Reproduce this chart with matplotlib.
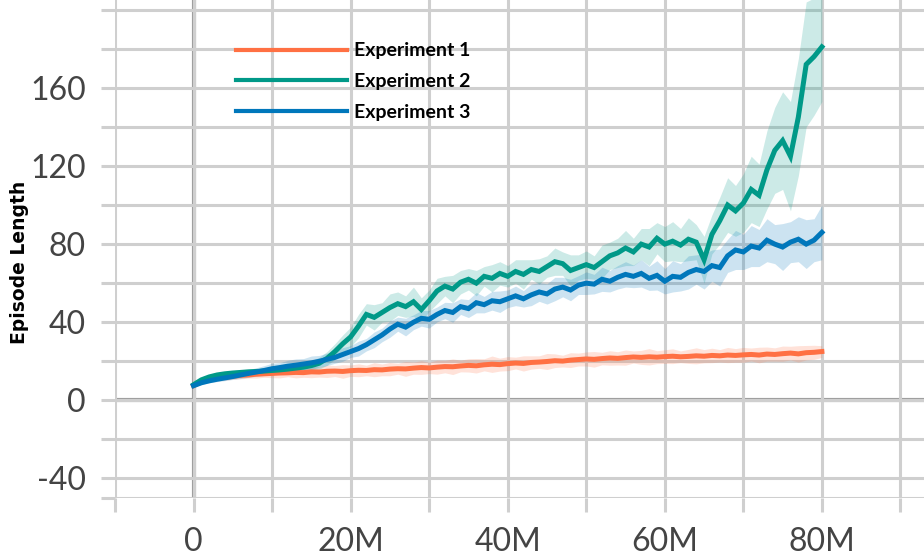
import numpy as np
import matplotlib
matplotlib.use("Agg")
import matplotlib.pyplot as plt

plt.rcParams['axes.unicode_minus'] = False

# training steps (millions), one sample per 1M
steps_m = list(range(0, 81))

exp1 = [7.5, 9.5, 10.5, 11.2, 11.8, 12.3, 12.8, 13.0, 13.4, 13.6,
        13.8, 14.0, 14.1, 14.3, 14.2, 14.6, 14.5, 14.9, 15.0, 14.8,
        15.2, 15.4, 15.3, 15.7, 15.6, 16.0, 16.2, 16.1, 16.5, 16.8,
        16.6, 17.0, 17.3, 17.2, 17.6, 17.9, 17.7, 18.2, 18.5, 18.3,
        18.8, 19.1, 18.9, 19.4, 19.6, 19.9, 20.3, 20.1, 20.6, 20.9,
        21.2, 21.0, 21.4, 21.7, 21.5, 21.9, 22.2, 22.0, 22.3, 22.1,
        22.4, 22.6, 22.3, 22.5, 22.8, 22.6, 23.0, 22.8, 23.2, 23.0,
        23.3, 23.5, 23.2, 23.7, 23.5, 23.9, 24.2, 23.8, 24.4, 24.6,
        25.0]
exp1_spread = [0.5, 0.8, 1.0, 1.2, 1.5, 1.5, 1.8, 1.6, 2.0, 1.8,
               2.2, 2.5, 2.0, 2.8, 2.4, 3.0, 2.6, 3.2, 2.8, 3.5,
               2.9, 3.3, 2.7, 3.6, 3.0, 3.4, 2.8, 3.8, 3.1, 3.5,
               2.9, 3.6, 3.2, 4.0, 3.0, 3.4, 3.7, 3.1, 4.2, 3.3,
               3.6, 3.0, 3.9, 3.4, 3.2, 4.1, 3.5, 3.0, 3.8, 3.3,
               3.6, 4.0, 3.2, 3.7, 3.4, 3.9, 3.1, 3.6, 4.2, 3.3,
               3.5, 3.8, 3.0, 3.6, 4.1, 3.4, 3.7, 3.2, 3.9, 3.5,
               3.8, 3.3, 4.0, 3.6, 3.4, 3.9, 3.5, 4.2, 3.7, 3.6,
               3.0]

exp2 = [8.0, 10.5, 12.0, 13.0, 13.6, 14.0, 14.3, 14.6, 14.8, 15.0,
        15.3, 15.6, 16.0, 16.5, 17.0, 17.8, 19.0, 21.5, 25.0, 29.0,
        32.5, 38.0, 44.0, 42.5, 45.0, 47.5, 49.5, 48.0, 50.5, 46.5,
        51.0, 56.0, 58.5, 57.0, 60.5, 62.0, 60.0, 63.5, 62.5, 65.0,
        63.5, 66.0, 64.5, 67.0, 66.0, 68.5, 71.0, 70.0, 66.5, 68.0,
        69.5, 68.0, 71.0, 74.0, 75.5, 78.0, 76.0, 80.0, 78.5, 83.0,
        80.0, 81.5, 79.5, 82.5, 81.0, 72.0, 85.0, 92.0, 100.0, 97.0,
        101.0, 108.0, 105.0, 118.0, 128.0, 133.0, 125.0, 145.0, 172.0, 176.0,
        181.0]
exp2_spread = [0.5, 0.8, 1.0, 1.0, 1.2, 1.2, 1.4, 1.3, 1.5, 1.4,
               1.6, 1.5, 1.8, 2.0, 2.2, 2.5, 3.0, 3.5, 4.0, 4.5,
               5.0, 6.0, 5.5, 6.5, 5.0, 7.0, 6.0, 5.5, 7.5, 6.0,
               5.5, 6.5, 5.0, 7.0, 6.0, 5.5, 6.5, 5.0, 7.0, 6.0,
               5.5, 6.0, 7.5, 5.0, 6.5, 5.5, 7.0, 6.0, 8.0, 6.5,
               7.0, 6.0, 8.5, 7.0, 7.5, 9.0, 7.0, 8.0, 9.5, 8.0,
               9.0, 10.0, 8.5, 11.0, 9.0, 12.0, 10.0, 12.0, 14.0, 13.0,
               15.0, 17.0, 16.0, 20.0, 22.0, 25.0, 28.0, 30.0, 32.0, 30.0,
               28.0]

exp3 = [7.5, 9.0, 10.0, 10.8, 11.5, 12.2, 13.0, 13.8, 14.5, 15.3,
        16.2, 16.8, 17.5, 18.0, 18.6, 19.2, 20.0, 21.0, 22.0, 23.5,
        25.0, 26.5, 28.5, 31.0, 33.5, 36.5, 39.0, 37.5, 40.0, 42.0,
        41.5, 44.0, 46.0, 45.0, 48.0, 47.0, 50.0, 49.0, 51.0, 50.5,
        52.0, 53.5, 52.0, 54.0, 55.5, 54.5, 57.0, 58.0, 56.5, 59.0,
        60.0, 59.5, 62.0, 61.0, 63.0, 64.5, 63.5, 65.0, 62.5, 64.0,
        61.0, 63.5, 63.0, 65.5, 67.0, 66.0, 69.0, 68.0, 74.0, 77.0,
        76.0, 79.0, 78.0, 82.0, 80.0, 78.5, 81.0, 82.5, 80.0, 82.0,
        86.0]
exp3_spread = [0.5, 0.8, 1.0, 1.2, 1.4, 1.5, 1.8, 2.0, 2.2, 2.5,
               2.8, 2.5, 3.0, 3.2, 2.8, 3.5, 3.0, 3.2, 3.0, 3.5,
               3.0, 3.8, 3.2, 4.0, 3.5, 4.2, 3.6, 4.5, 3.8, 4.0,
               4.5, 3.8, 4.2, 5.0, 4.0, 4.6, 5.2, 4.2, 4.8, 5.5,
               4.5, 5.0, 4.2, 5.5, 4.8, 5.2, 6.0, 5.0, 5.5, 4.8,
               5.8, 5.0, 6.2, 5.5, 6.0, 6.5, 5.8, 7.0, 6.2, 7.5,
               6.5, 8.0, 7.0, 8.5, 7.5, 9.0, 8.0, 9.5, 8.5, 10.0,
               9.0, 10.5, 9.5, 11.0, 10.0, 12.0, 10.5, 11.5, 12.5, 11.0,
               14.0]

labels = ["Experiment 1", "Experiment 2", "Experiment 3"]
colors = ["#FF7043", "#009988", "#0077BB"]

x_ticks = list(range(-10, 100, 10))
x_tick_labels = ["", "0", "", "20M", "", "40M", "", "60M", "", "80M", ""]
y_ticks = [-50, -40, -20, 0, 20, 40, 60, 80, 100, 120, 140, 160, 180, 200]
y_tick_labels = ["", "-40", "", "0", "", "40", "", "80", "", "120", "", "160", "", ""]

grid_col = "#cfcfcf"

fig = plt.figure(figsize=(9.24, 5.6), dpi=100)
ax = fig.add_axes([115 / 924, 62 / 560, 809 / 924, 498 / 560])

x = np.array(steps_m, dtype=float)
series = [(exp1, exp1_spread), (exp2, exp2_spread), (exp3, exp3_spread)]
for (vals, spread), lab, col in zip(series, labels, colors):
    v = np.array(vals)
    s = np.array(spread)
    ax.fill_between(x, v - s, v + s, color=col, alpha=0.2, lw=0, zorder=2)
for (vals, spread), lab, col in zip(series, labels, colors):
    ax.plot(x, vals, color=col, lw=3.6, label=lab, zorder=3,
            solid_joinstyle="miter")

ax.set_xlim(-10, 93)
ax.set_ylim(-50, 205)

ax.set_xticks(x_ticks)
ax.set_xticklabels(x_tick_labels)
ax.set_yticks(y_ticks)
ax.set_yticklabels(y_tick_labels)

ax.grid(True, color=grid_col, lw=2.2, zorder=0)
ax.axvline(0, color="#9e9e9e", lw=3, zorder=1)
ax.axhline(0, color="#9e9e9e", lw=3, zorder=1)

for sp in ["top", "right", "left", "bottom"]:
    ax.spines[sp].set_visible(False)

ax.tick_params(axis="both", length=10, width=2.2, color=grid_col,
               pad=11, labelsize=23, labelcolor="#444444")
for t in ax.get_xticklabels() + ax.get_yticklabels():
    t.set_fontfamily("Lato")
    t.set_fontweight("normal")

ax.set_ylabel("Episode Length", fontsize=13.5, fontweight="bold",
              fontfamily="DejaVu Sans", color="black")
ax.yaxis.set_label_coords(-0.106, 0.474)

leg = ax.legend(loc="upper left", bbox_to_anchor=(0.149, 0.915),
                frameon=False, handlelength=5.75,
                handletextpad=0.35, labelspacing=0.7,
                borderpad=0, borderaxespad=0,
                prop={"family": "Lato", "weight": "bold", "size": 14})
for line in leg.get_lines():
    line.set_linewidth(3.0)

fig.savefig("out.png", dpi=100)
